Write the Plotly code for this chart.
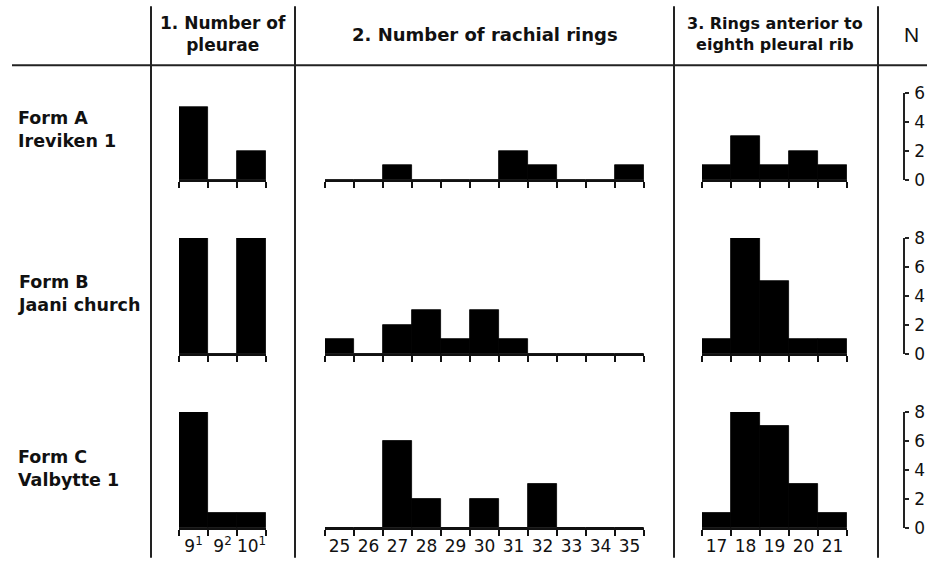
import plotly.graph_objects as go

W = 927
HF = 570        # figure height; the capture maps figure y -> 8.8 + 0.9655*y
CAP_OFF = 8.8
CAP_SCALE = 0.9655

# ---------------- data ----------------
rows = ["Form A<br>Ireviken 1", "Form B<br>Jaani church", "Form C<br>Valbytte 1"]

pleurae_labels = ["9<sup>1</sup>", "9<sup>2</sup>", "10<sup>1</sup>"]
pleurae_A = [5, 0, 2]
pleurae_B = [8, 0, 8]
pleurae_C = [8, 1, 1]

rachial_labels = ["25", "26", "27", "28", "29", "30", "31", "32", "33", "34", "35"]
rachial_A = [0, 0, 1, 0, 0, 0, 2, 1, 0, 0, 1]
rachial_B = [1, 0, 2, 3, 1, 3, 1, 0, 0, 0, 0]
rachial_C = [0, 0, 6, 2, 0, 2, 0, 3, 0, 0, 0]

rings_labels = ["17", "18", "19", "20", "21"]
rings_A = [1, 3, 1, 2, 1]
rings_B = [1, 8, 5, 1, 1]
rings_C = [1, 8, 7, 3, 1]

n_max = [6, 8, 8]
n_ticks = [[0, 2, 4, 6], [0, 2, 4, 6, 8], [0, 2, 4, 6, 8]]

headers = ["1. Number of<br>pleurae", "2. Number of rachial rings",
           "3. Rings anterior to<br>eighth pleural rib", "N"]

# ---------------- layout geometry (pixels of the target picture) ----------------
unit = 14.5
baselines = [179, 353, 527]
panel_px = [(179, 266), (325, 644), (702, 847)]
n_axis_x = 904

def px(x):
    return x / W

def py(y):
    yf = (y - CAP_OFF) / CAP_SCALE
    return 1 - yf / HF

data_panels = [
    (pleurae_labels, [pleurae_A, pleurae_B, pleurae_C]),
    (rachial_labels, [rachial_A, rachial_B, rachial_C]),
    (rings_labels, [rings_A, rings_B, rings_C]),
]

BOLD = "DejaVu Sans, Liberation Sans, sans-serif"

fig = go.Figure()
layout = dict(
    width=W, height=HF,
    margin=dict(l=0, r=0, t=0, b=0),
    paper_bgcolor="white", plot_bgcolor="rgba(0,0,0,0)",
    showlegend=False, bargap=0,
    font=dict(family="DejaVu Sans, sans-serif", color="#111"),
)

ax_idx = 0
for r in range(3):
    yname = "yaxis" if r == 0 else f"yaxis{r+1}"
    yref = "y" if r == 0 else f"y{r+1}"
    top = baselines[r] - n_max[r] * unit
    layout[yname] = dict(
        domain=[py(baselines[r]), py(top)],
        range=[0, n_max[r]],
        anchor="free", position=px(n_axis_x), side="right",
        showline=True, linecolor="#222", linewidth=1.5,
        ticks="outside", ticklen=4, tickwidth=1.5, tickcolor="#222",
        tickmode="array",
        tickvals=n_ticks[r], ticktext=[str(v) for v in n_ticks[r]],
        tickfont=dict(family="DejaVu Sans", size=17, color="#111"),
        ticklabelstandoff=2,
        showgrid=False, zeroline=False, fixedrange=True,
    )
    for p in range(3):
        ax_idx += 1
        xname = "xaxis" if ax_idx == 1 else f"xaxis{ax_idx}"
        xref = "x" if ax_idx == 1 else f"x{ax_idx}"
        labels, vals = data_panels[p]
        n = len(labels)
        centers = list(range(n))
        edges = [i - 0.5 for i in range(n + 1)]
        x0, x1 = panel_px[p]
        layout[xname] = dict(
            domain=[px(x0), px(x1)],
            range=[-0.5, n - 0.5],
            anchor=yref,
            showline=True, linecolor="#111", linewidth=2,
            tickmode="array", tickvals=centers, ticktext=labels, ticks="",
            showticklabels=(r == 2),
            tickfont=dict(family="DejaVu Sans", size=17, color="#111"),
            ticklabelstandoff=2,
            minor=dict(tickmode="array", tickvals=edges, ticks="outside",
                       ticklen=6, tickwidth=1.5, tickcolor="#111"),
            showgrid=False, zeroline=False, fixedrange=True,
        )
        fig.add_trace(go.Bar(
            x=centers, y=vals[r], width=1,
            marker=dict(color="black", line=dict(color="black", width=0.8)),
            xaxis=xref, yaxis=yref, hoverinfo="skip",
        ))

# ---------------- frame lines ----------------
shapes = []
for xv in [151, 295, 674, 878]:
    shapes.append(dict(type="line", xref="paper", yref="paper",
                       x0=px(xv), x1=px(xv), y0=py(5), y1=py(557),
                       line=dict(color="#222", width=2)))
shapes.append(dict(type="line", xref="paper", yref="paper",
                   x0=px(12), x1=1, y0=py(64), y1=py(64),
                   line=dict(color="#222", width=2)))
layout["shapes"] = shapes

# ---------------- text ----------------
ann = []
hdr_pos = [(223, 33, 17), (485, 33, 18), (775, 33, 16)]
for (hx, hy, hs), t in zip(hdr_pos, headers[:3]):
    ann.append(dict(x=px(hx), y=py(hy), xref="paper", yref="paper",
                    text="<b>" + t + "</b>", showarrow=False,
                    font=dict(family=BOLD, size=hs, color="#111"), align="center",
                    xanchor="center", yanchor="middle"))
ann.append(dict(x=px(911), y=py(33), xref="paper", yref="paper",
                text=headers[3], showarrow=False,
                font=dict(family="Liberation Sans", size=21, color="#111"),
                xanchor="center", yanchor="middle"))
row_y = [128, 292, 468]
for ry, t in zip(row_y, rows):
    ann.append(dict(x=px(16), y=py(ry), xref="paper", yref="paper",
                    text="<b>" + t + "</b>", showarrow=False,
                    font=dict(family=BOLD, size=17.5, color="#111"), align="left",
                    xanchor="left", yanchor="middle"))
layout["annotations"] = ann

fig.update_layout(**layout)
fig.write_html(
    "out.html",
    config={"displayModeBar": False},
    post_script=(
        "var s=document.createElement('style');"
        "s.innerHTML='html,body{margin:0!important;padding:0!important;overflow:hidden;}"
        "body>div{line-height:0;font-size:0;}';"
        "document.head.appendChild(s);"
    ),
)
